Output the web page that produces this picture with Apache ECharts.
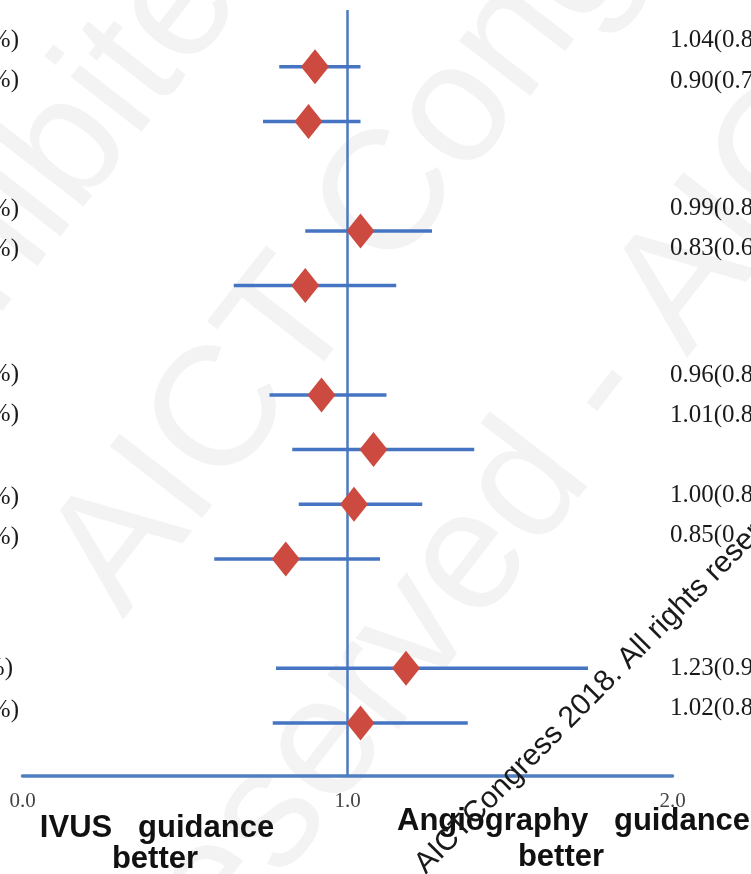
<!DOCTYPE html>
<html>
<head>
<meta charset="utf-8">
<script src="https://cdn.jsdelivr.net/npm/echarts@6/dist/echarts.min.js"></script>
<style>
  html, body { margin: 0; padding: 0; background: #ffffff; }
  #chart { width: 751px; height: 874px; }
</style>
</head>
<body>
<div id="chart"></div>
<script>
// Forest plot rows: position on the row scale, point estimate and 95% CI
const rowPos = [0, 1, 3, 4, 6, 7, 8, 9, 11, 12];
const oddsRatio = [0.90, 0.88, 1.04, 0.87, 0.92, 1.08, 1.02, 0.81, 1.18, 1.04];
const ciLow = [0.79, 0.74, 0.87, 0.65, 0.76, 0.83, 0.85, 0.59, 0.78, 0.77];
const ciHigh = [1.04, 1.04, 1.26, 1.15, 1.12, 1.39, 1.23, 1.10, 1.74, 1.37];
const xTickLabels = ['0.0', '1.0', '2.0'];
const nullValue = 1;

// Table text beside the plot (clipped by the page edges)
const rightTexts = ['1.04(0.8', '0.90(0.7', '0.99(0.8', '0.83(0.6', '0.96(0.8',
                    '1.01(0.8', '1.00(0.8', '0.85(0.', '1.23(0.9', '1.02(0.8'];
const leftTexts = ['%)', '%)', '%)', '%)', '%)', '%)', '%)', '%)', '%)', '%)'];

// layout of the table text lines (px)
const rightTextY = [40, 81, 208, 248, 375, 415, 495, 535, 668, 708];
const leftTextY = [40, 80, 209, 249, 374, 414, 497, 537, 668, 710];
const leftTextRight = [19, 19, 19, 19, 19, 19, 19, 19, 13, 19];

const rowMin = -1.04, rowMax = 12.97;

const chart = echarts.init(document.getElementById('chart'), null, { renderer: 'canvas' });

const graphics = [];

// faint background watermark
const wmStyle = { fill: '#f3f3f3', fontFamily: 'Liberation Sans', fontSize: 170, textVerticalAlign: 'middle' };
graphics.push({ type: 'text', z: 0, x: -204, y: 500, rotation: 0.91, style: Object.assign({ text: 'Prohibited' }, wmStyle) });
graphics.push({ type: 'text', z: 0, x: 86, y: 591, rotation: 0.91, style: Object.assign({ text: 'AICT Congress' }, wmStyle) });
graphics.push({ type: 'text', z: 0, x: 151, y: 971, rotation: 0.91, style: Object.assign({ text: 'reserved - AICT' }, wmStyle) });

rightTexts.forEach((t, i) => {
  graphics.push({ type: 'text', z: 10, x: 670, y: rightTextY[i],
    style: { text: t, fill: '#1a1a1a', fontFamily: 'Liberation Serif', fontSize: 25,
             textAlign: 'left', textVerticalAlign: 'middle' } });
});
leftTexts.forEach((t, i) => {
  graphics.push({ type: 'text', z: 10, x: leftTextRight[i], y: leftTextY[i],
    style: { text: t, fill: '#1a1a1a', fontFamily: 'Liberation Serif', fontSize: 25,
             textAlign: 'right', textVerticalAlign: 'middle' } });
});

const boldStyle = { fill: '#111111', fontFamily: 'Liberation Sans', fontWeight: 'bold', fontSize: 31,
                    textVerticalAlign: 'middle' };
graphics.push({ type: 'text', z: 10, x: 157, y: 828, style: Object.assign({ text: 'IVUS   guidance', textAlign: 'center' }, boldStyle) });
graphics.push({ type: 'text', z: 10, x: 155, y: 859, style: Object.assign({ text: 'better', textAlign: 'center' }, boldStyle) });
graphics.push({ type: 'text', z: 10, x: 397, y: 821, style: Object.assign({ text: 'Angiography   guidance', textAlign: 'left' }, boldStyle) });
graphics.push({ type: 'text', z: 10, x: 561, y: 857, style: Object.assign({ text: 'better', textAlign: 'center' }, boldStyle) });

// copyright line
graphics.push({ type: 'text', z: 20, x: 420, y: 869, rotation: 0.79,
  style: { text: 'AICTCongress 2018. All rights reserved', fill: '#1a1a1a', fontFamily: 'Liberation Sans',
           fontSize: 30, textAlign: 'left', textVerticalAlign: 'middle' } });

const option = {
  animation: false,
  backgroundColor: '#ffffff',
  grid: { left: 22.5, right: 78.5, top: 10, bottom: 98 },
  xAxis: {
    type: 'value', min: 0, max: 2, interval: 1,
    axisLine: { show: true, onZero: false, lineStyle: { color: '#4f7fc0', width: 3.5 } },
    axisTick: { show: false },
    splitLine: { show: false },
    axisLabel: {
      formatter: v => xTickLabels[Math.round(v)],
      fontFamily: 'Liberation Serif', fontSize: 21, color: '#444444', margin: 15
    }
  },
  yAxis: { type: 'value', inverse: true, min: rowMin, max: rowMax, show: false },
  graphic: graphics,
  series: [
    {
      // line of no effect
      type: 'line',
      z: 1,
      symbol: 'none',
      silent: true,
      lineStyle: { color: '#4a7ac2', width: 2.5 },
      data: [[nullValue, rowMin], [nullValue, rowMax]]
    },
    {
      // confidence intervals
      type: 'custom',
      z: 2,
      data: rowPos.map((r, i) => [r, ciLow[i], ciHigh[i]]),
      encode: { x: [1, 2], y: 0 },
      renderItem: (params, api) => {
        const row = api.value(0);
        const a = api.coord([api.value(1), row]);
        const b = api.coord([api.value(2), row]);
        return { type: 'line', shape: { x1: a[0], y1: a[1], x2: b[0], y2: b[1] },
                 style: { stroke: '#4474c2', lineWidth: 3.5 } };
      }
    },
    {
      // point estimates
      type: 'scatter',
      z: 3,
      symbol: 'diamond',
      symbolSize: [28, 35],
      itemStyle: { color: '#cc4a40', opacity: 1 },
      data: rowPos.map((r, i) => [oddsRatio[i], r])
    }
  ]
};
chart.setOption(option);
</script>
</body>
</html>
